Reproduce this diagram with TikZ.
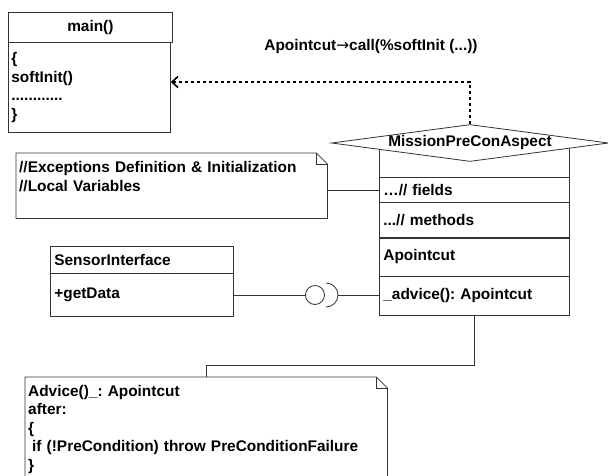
\documentclass[tikz,border=0pt]{standalone}
\usepackage{fontspec}
\setmainfont{Liberation Sans}
\newfontfamily\arrowfont{DejaVu Sans}
\usetikzlibrary{arrows.meta}
\usetikzlibrary{shapes.geometric}

\colorlet{umlline}{black!80}
\tikzset{
  umlbox/.style={draw=umlline, line width=0.8pt, anchor=north west, inner xsep=4pt, inner ysep=0pt, align=left},
  notetext/.style={anchor=north west, inner xsep=3pt, inner ysep=0pt, align=left},
  noteline/.style={draw=umlline, line width=0.8pt},
  callarrow/.style={line width=1.6pt, dash pattern=on 3.5pt off 2.5pt, ->},
}

\begin{document}
\begin{tikzpicture}[x=1pt,y=-1pt,>={Straight Barb[length=6pt,width=11pt]},font=\bfseries\fontsize{15.4pt}{18.5pt}\selectfont\frenchspacing]
      \useasboundingbox (0,0) rectangle (608,475);
      \clip (0,0) rectangle (608,475);

      \node[umlbox, text width=156pt, minimum height=30pt, align=center] (mainhead) at (8,12) {main()};
      \node[umlbox, text width=156pt, minimum height=90pt, inner xsep=3pt] (mainbody) at (8,42) {\{\\softInit()\\............\\\}};

      \node[notetext, text width=305pt, minimum height=65pt] (note1) at (16,153) {//Exceptions Definition \& Initialization\\//Local Variables\\~};
      \draw[noteline] (note1.north west) -- ([xshift=-11pt]note1.north east) -- ([yshift=-11pt]note1.north east) -- (note1.south east) -- (note1.south west) -- cycle;
      \draw[noteline] ([xshift=-11pt]note1.north east) -- ([xshift=-11pt,yshift=-11pt]note1.north east) -- ([yshift=-11pt]note1.north east);

      \node[umlbox, text width=175pt, minimum height=27pt] (sensorhead) at (50,246) {SensorInterface};
      \node[umlbox, text width=175pt, minimum height=43pt] (sensorbody) at (50,273) {+getData};

      \node[umlbox, text width=182pt, minimum height=34pt] (aspecttop) at (379,143) {};
      \node[umlbox, text width=182pt, minimum height=25pt] (fields) at (379,177) {…// fields};
      \node[umlbox, text width=182pt, minimum height=35pt] (methods) at (379,202) {...// methods};
      \node[umlbox, text width=182pt, minimum height=39pt] (pointcut) at (379,237) {Apointcut};
      \node[umlbox, text width=182pt, minimum height=39pt] (advice) at (379,276) {\_advice(): Apointcut};
      \draw[umlline, line width=1.5pt] (methods.south west) -- (methods.south east);

      \node[diamond, draw=umlline, line width=0.8pt, fill=white, aspect=7.6, inner sep=0pt, minimum width=277pt, minimum height=37pt] (aspect) at (470,143) {MissionPreConAspect};

      \node[notetext, text width=356pt, inner ysep=8pt] (note2) at (25,377) {Advice()\_: Apointcut\\after:\\\{\\\hspace*{4pt}if (!PreCondition) throw PreConditionFailure\\\}};
      \draw[noteline] (note2.north west) -- ([xshift=-11pt]note2.north east) -- ([yshift=-11pt]note2.north east) -- (note2.south east) -- (note2.south west) -- cycle;
      \draw[noteline] ([xshift=-11pt]note2.north east) -- ([xshift=-11pt,yshift=-11pt]note2.north east) -- ([yshift=-11pt]note2.north east);

      \node (calllabel) at (371,47) {Apointcut{\arrowfont\mdseries →}call(\%softInit (...))};

      \coordinate (bend) at (470,82);
      \coordinate (balltip) at (338,295);
      \coordinate (sockettop) at (326,283);
      \coordinate (joint) at (206,365);

      \draw[callarrow] (aspect.north) -- (bend) -- (bend -| mainbody.east);

      \draw[noteline] (note1.east |- fields.west) -- (fields.west);

      \node[circle, draw=umlline, line width=0.8pt, minimum size=19pt, inner sep=0pt] (ball) at (315,295) {};
      \draw[noteline] (sensorbody.east |- ball.west) -- (ball.west);
      \draw[noteline] (sockettop) arc[start angle=90, end angle=-90, radius=12pt];
      \draw[noteline] (balltip) -- (balltip -| advice.west);

      \draw[noteline] (advice.south) |- (joint) -- (joint |- note2.north);
    \end{tikzpicture}
\end{document}
